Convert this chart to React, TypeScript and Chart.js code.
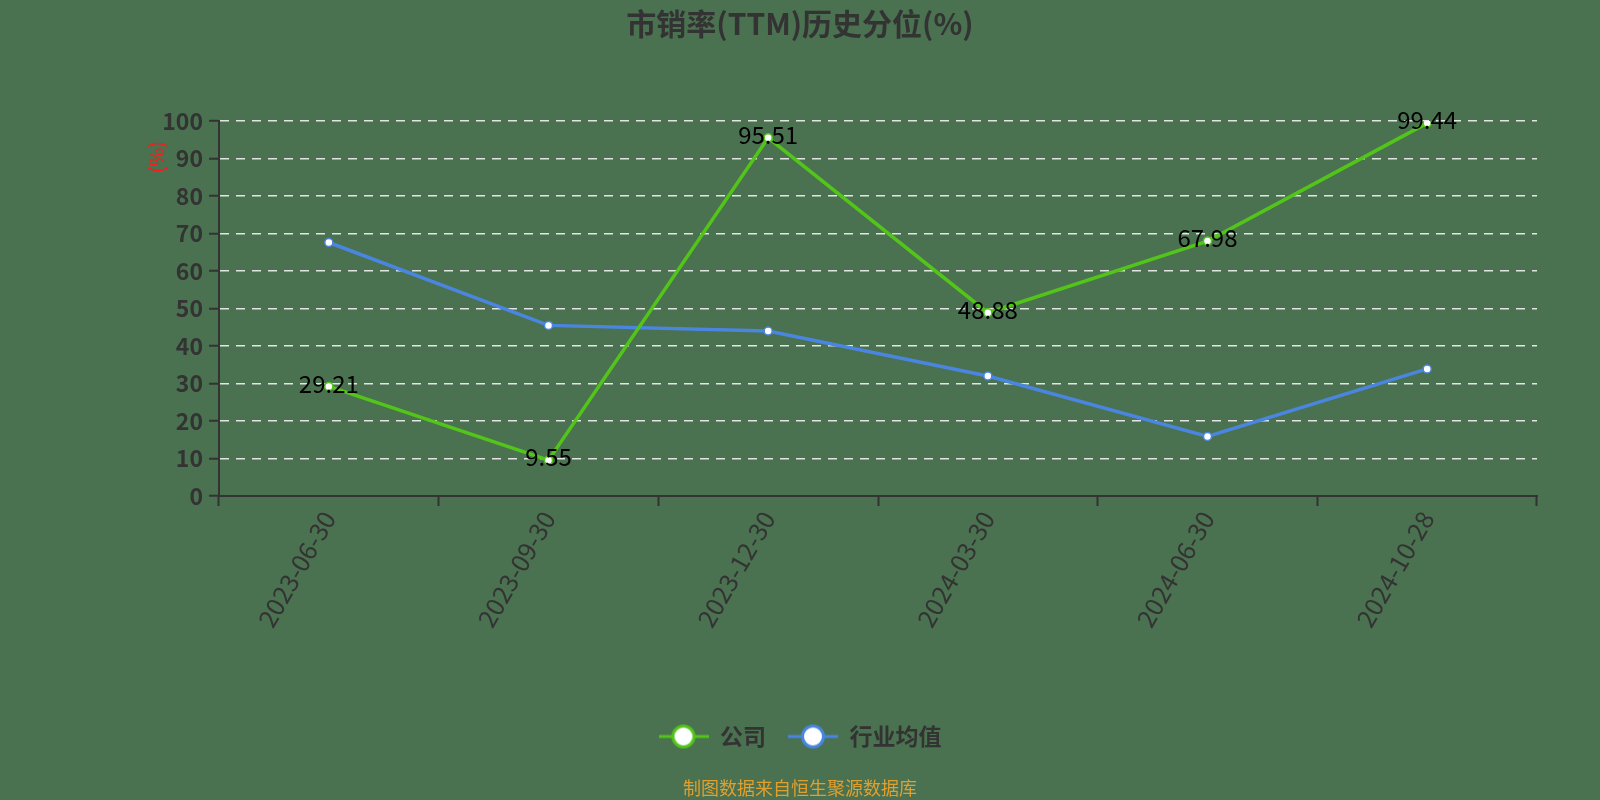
import React, { useEffect, useRef } from 'react';
import { Chart, registerables } from 'chart.js';

Chart.register(...registerables);

const titleText = '市销率(TTM)历史分位(%)';
const yAxisLabel = '(%)';
const footerText = '制图数据来自恒生聚源数据库';
const categories = ['2023-06-30', '2023-09-30', '2023-12-30', '2024-03-30', '2024-06-30', '2024-10-28'];
const seriesNames = ['公司', '行业均值'];
const companyValues = [29.21, 9.55, 95.51, 48.88, 67.98, 99.44];
const industryValues = [67.6, 45.5, 44.0, 32.0, 15.9, 33.9];
const yMin = 0;
const yMax = 100;
const yStep = 10;

const FONT = '"Noto Sans CJK SC", "Noto Sans", sans-serif';
const BG = '#4a7150';
const GREEN = '#52c41a';
const BLUE = '#4a86e0';
const DARK = '#333333';

function makeLegendIcon(color: string): HTMLCanvasElement {
  const c = document.createElement('canvas');
  c.width = 50;
  c.height = 28;
  const g = c.getContext('2d')!;
  g.strokeStyle = color;
  g.lineWidth = 3;
  g.beginPath();
  g.moveTo(0, 14);
  g.lineTo(50, 14);
  g.stroke();
  g.beginPath();
  g.arc(25, 14, 10.5, 0, Math.PI * 2);
  g.fillStyle = '#ffffff';
  g.fill();
  g.lineWidth = 3;
  g.stroke();
  return c;
}

const backgroundPlugin = {
  id: 'bgFill',
  beforeDraw(chart: any) {
    const { ctx, width, height } = chart;
    ctx.save();
    ctx.fillStyle = BG;
    ctx.fillRect(0, 0, width, height);
    ctx.restore();
  },
};

const extrasPlugin = {
  id: 'extras',
  afterDatasetsDraw(chart: any) {
    const { ctx } = chart;
    const meta = chart.getDatasetMeta(0);
    ctx.save();
    ctx.font = `24px ${FONT}`;
    ctx.fillStyle = '#000000';
    ctx.textAlign = 'center';
    ctx.textBaseline = 'middle';
    meta.data.forEach((pt: any, i: number) => {
      ctx.fillText(companyValues[i].toFixed(2), pt.x, pt.y - 3);
    });
    ctx.restore();
  },
  afterDraw(chart: any) {
    const { ctx, chartArea, width, height } = chart;
    ctx.save();
    ctx.translate(chartArea.left - 63, chartArea.top + 36);
    ctx.rotate(-Math.PI / 2);
    ctx.font = `20px ${FONT}`;
    ctx.fillStyle = '#ff1a1a';
    ctx.textAlign = 'center';
    ctx.textBaseline = 'middle';
    ctx.fillText(yAxisLabel, 0, 0);
    ctx.restore();

    ctx.save();
    ctx.font = `18px ${FONT}`;
    ctx.fillStyle = '#e0a030';
    ctx.textAlign = 'center';
    ctx.textBaseline = 'middle';
    ctx.fillText(footerText, width / 2, height - 12);
    ctx.restore();
  },
};

export default function App() {
  const ref = useRef<HTMLCanvasElement | null>(null);

  useEffect(() => {
    document.body.style.margin = '0';
    const canvas = ref.current;
    if (!canvas) return;
    const icons = [makeLegendIcon(GREEN), makeLegendIcon(BLUE)];

    const chart = new Chart(canvas, {
      type: 'line',
      data: {
        labels: categories,
        datasets: [
          {
            label: seriesNames[0],
            data: companyValues,
            borderColor: GREEN,
            backgroundColor: GREEN,
            borderWidth: 3.5,
            pointRadius: 4,
            pointBorderWidth: 1.5,
            pointBackgroundColor: '#ffffff',
            pointBorderColor: GREEN,
            tension: 0,
          },
          {
            label: seriesNames[1],
            data: industryValues,
            borderColor: BLUE,
            backgroundColor: BLUE,
            borderWidth: 3.5,
            pointRadius: 4,
            pointBorderWidth: 1.5,
            pointBackgroundColor: '#ffffff',
            pointBorderColor: BLUE,
            tension: 0,
          },
        ],
      },
      options: {
        animation: false,
        responsive: false,
        devicePixelRatio: 1,
        events: [],
        layout: { padding: { left: 63, right: 63, top: 0, bottom: 42 } },
        plugins: {
          title: {
            display: true,
            text: titleText,
            color: DARK,
            font: { size: 30, weight: 'bold', family: FONT },
            padding: { top: 6, bottom: 79 },
          },
          legend: {
            position: 'bottom',
            labels: {
              usePointStyle: true,
              pointStyleWidth: 50,
              padding: 22,
              color: DARK,
              font: { size: 23, weight: 'bold', family: FONT },
              generateLabels: (ch: any) => {
                const items = Chart.defaults.plugins.legend.labels.generateLabels(ch);
                return items.map((it: any, i: number) => ({ ...it, pointStyle: icons[i] }));
              },
            },
          },
          tooltip: { enabled: false },
        },
        scales: {
          x: {
            offset: true,
            afterFit: (scale: any) => {
              scale.height = 207;
            },
            grid: {
              display: true,
              offset: true,
              drawOnChartArea: false,
              drawTicks: true,
              tickLength: 10,
              tickColor: DARK,
              tickWidth: 2,
            },
            border: { display: true, color: DARK, width: 2 },
            ticks: {
              color: DARK,
              font: { size: 25, family: FONT },
              maxRotation: 60,
              minRotation: 60,
              padding: 0,
            },
          },
          y: {
            min: yMin,
            max: yMax,
            afterFit: (scale: any) => {
              scale.width = 156;
            },
            ticks: {
              stepSize: yStep,
              color: DARK,
              font: { size: 23, weight: '600', family: FONT },
              padding: 6,
            },
            grid: {
              color: (c: any) => (c.tick && c.tick.value === 0 ? 'rgba(0,0,0,0)' : 'rgba(235,235,235,0.95)'),
              lineWidth: 1.5,
              drawTicks: true,
              tickLength: 10,
              tickColor: DARK,
              tickWidth: 2,
              tickBorderDash: [],
            },
            border: { display: true, color: DARK, width: 2, dash: [9, 7] },
          },
        },
      },
      plugins: [backgroundPlugin, extrasPlugin],
    } as any);

    return () => {
      chart.destroy();
    };
  }, []);

  return (
    <div style={{ width: 1600, height: 800 }}>
      <canvas ref={ref} width={1600} height={800} style={{ display: 'block', width: 1600, height: 800 }} />
    </div>
  );
}
